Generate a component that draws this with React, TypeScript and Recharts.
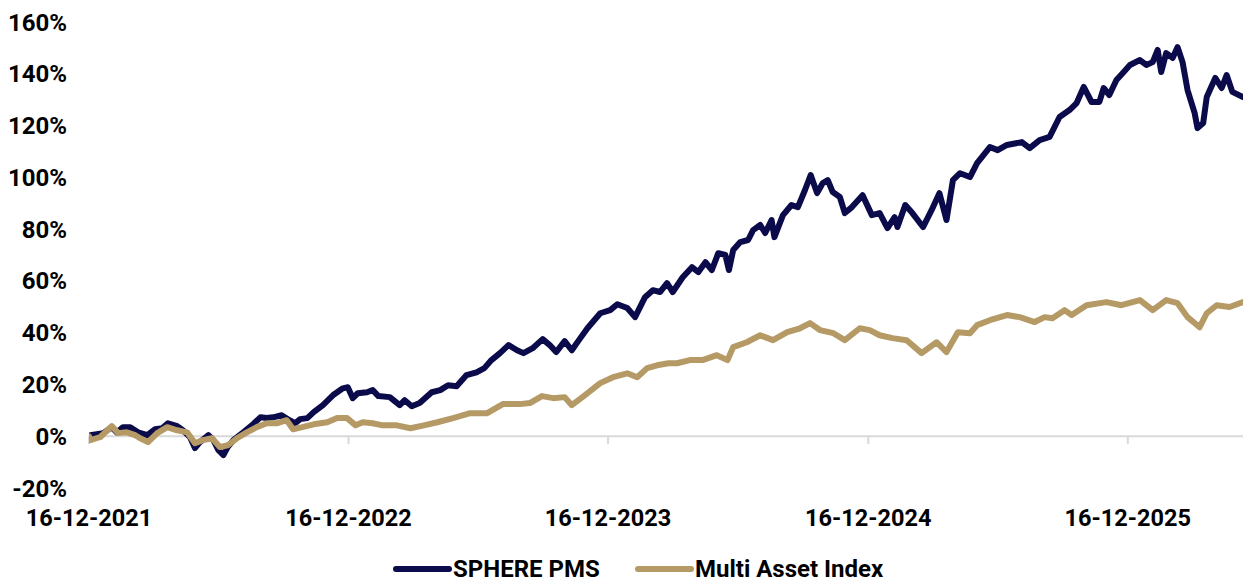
import React from "react";
import { LineChart, Line, XAxis, YAxis, ReferenceLine, Legend } from "recharts";

// ---------- data ----------
const seriesNames = ["SPHERE PMS", "Multi Asset Index"];
const seriesColors = ["#0b0b4b", "#b59a66"];

const xTickDates = ["2021-12-16", "2022-12-16", "2023-12-16", "2024-12-16", "2025-12-16"];
const yTicks = [-20, 0, 20, 40, 60, 80, 100, 120, 140, 160];

const sphereDates = [
  "2021-12-16","2021-12-18","2022-01-05","2022-01-17","2022-01-24","2022-02-02","2022-02-12","2022-02-23",
  "2022-03-08","2022-03-19","2022-03-29","2022-04-06","2022-04-19","2022-04-27","2022-05-07","2022-05-14",
  "2022-05-21","2022-06-02","2022-06-09","2022-06-16","2022-06-23","2022-06-29","2022-07-07","2022-07-21",
  "2022-08-02","2022-08-14","2022-08-23","2022-09-01","2022-09-13","2022-09-24","2022-10-02","2022-10-09",
  "2022-10-19","2022-10-28","2022-11-10","2022-11-24","2022-12-08","2022-12-15","2022-12-22","2022-12-29",
  "2023-01-11","2023-01-19","2023-01-27","2023-02-12","2023-02-26","2023-03-05","2023-03-15","2023-03-26",
  "2023-04-12","2023-04-24","2023-05-05","2023-05-17","2023-05-31","2023-06-14","2023-06-25","2023-07-05",
  "2023-07-17","2023-07-29","2023-08-10","2023-08-19","2023-09-01","2023-09-15","2023-09-25","2023-10-04",
  "2023-10-16","2023-10-26","2023-11-06","2023-11-17","2023-12-05","2023-12-19","2023-12-29","2024-01-12",
  "2024-01-23","2024-02-06","2024-02-17","2024-02-27","2024-03-08","2024-03-16","2024-03-30","2024-04-12",
  "2024-04-21","2024-05-01","2024-05-10","2024-05-19","2024-05-29","2024-06-03","2024-06-09","2024-06-19",
  "2024-06-30","2024-07-07","2024-07-17","2024-07-24","2024-08-02","2024-08-06","2024-08-18","2024-08-30",
  "2024-09-08","2024-09-18","2024-09-26","2024-10-05","2024-10-13","2024-10-20","2024-10-27","2024-11-06",
  "2024-11-13","2024-11-23","2024-12-08","2024-12-21","2025-01-01","2025-01-12","2025-01-22","2025-01-26",
  "2025-02-06","2025-02-16","2025-03-03","2025-03-15","2025-03-26","2025-04-05","2025-04-14","2025-04-24",
  "2025-05-08","2025-05-18","2025-06-05","2025-06-16","2025-06-29","2025-07-20","2025-07-31","2025-08-14",
  "2025-08-28","2025-09-11","2025-09-25","2025-10-05","2025-10-15","2025-10-26","2025-11-06","2025-11-12",
  "2025-11-20","2025-11-30","2025-12-09","2025-12-19","2026-01-02","2026-01-11","2026-01-20","2026-01-27",
  "2026-02-01","2026-02-08","2026-02-17","2026-02-24","2026-03-03","2026-03-10","2026-03-20","2026-03-24",
  "2026-04-01","2026-04-06","2026-04-18","2026-04-27","2026-05-04","2026-05-12","2026-05-27",
];
const sphereValues = [
  0, 0.4, 1.2, 3.5, 1.5, 3.5, 3.5, 1.5,
  0.4, 2.7, 3.1, 5.0, 3.9, 2.3, -0.3, -4.6,
  -2.3, 0.4, -1.5, -5.4, -7.3, -4.2, -1.5, 1.5,
  4.2, 7.3, 7.0, 7.3, 8.1, 6.2, 5.0, 6.6,
  7.0, 9.3, 12.0, 15.8, 18.5, 18.9, 14.7, 16.6,
  17.0, 17.8, 15.5, 15.1, 12.0, 13.9, 11.6, 12.8,
  17.0, 17.8, 19.7, 19.3, 23.6, 24.7, 26.3, 29.4,
  32.1, 35.2, 33.2, 32.1, 34.0, 37.5, 35.2, 32.5,
  36.7, 33.2, 37.5, 41.7, 47.5, 48.7, 51.0, 49.5,
  46.0, 53.7, 56.4, 55.7, 59.1, 55.7, 61.4, 65.3,
  63.4, 67.2, 64.2, 70.7, 70.0, 64.2, 71.9, 75.0,
  75.8, 79.6, 81.6, 78.5, 83.5, 76.9, 85.4, 89.3,
  88.5, 95.1, 100.9, 93.9, 97.8, 98.9, 94.3, 92.4,
  86.2, 88.5, 93.1, 85.4, 86.2, 80.4, 84.6, 80.8,
  89.3, 86.2, 80.8, 87.3, 93.9, 83.5, 98.9, 101.6,
  100.1, 105.5, 111.7, 110.5, 112.5, 113.6, 111.3, 114.4,
  115.6, 123.3, 126.0, 128.7, 134.9, 129.1, 129.1, 134.5,
  131.8, 137.6, 140.3, 143.4, 145.3, 143.4, 144.5, 149.2,
  140.7, 148.0, 146.1, 150.3, 144.5, 133.7, 124.8, 119.0,
  121.0, 131.0, 138.4, 134.5, 139.5, 133.0, 131.0,
];

const multiDates = [
  "2021-12-16","2021-12-18","2022-01-01","2022-01-17","2022-01-26","2022-02-07","2022-02-19","2022-02-26",
  "2022-03-09","2022-03-22","2022-04-05","2022-04-19","2022-05-03","2022-05-14","2022-05-25","2022-06-07",
  "2022-06-18","2022-06-29","2022-07-12","2022-07-26","2022-08-09","2022-08-23","2022-09-06","2022-09-20",
  "2022-09-29","2022-10-12","2022-10-28","2022-11-16","2022-11-30","2022-12-14","2022-12-26","2023-01-05",
  "2023-01-19","2023-02-02","2023-02-22","2023-03-13","2023-04-01","2023-04-20","2023-05-12","2023-06-05",
  "2023-06-29","2023-07-21","2023-08-14","2023-08-28","2023-09-14","2023-09-30","2023-10-16","2023-10-26",
  "2023-11-10","2023-12-05","2023-12-23","2024-01-12","2024-01-26","2024-02-09","2024-02-23","2024-03-10",
  "2024-03-22","2024-04-09","2024-04-27","2024-05-17","2024-06-01","2024-06-09","2024-06-28","2024-07-17",
  "2024-08-04","2024-08-24","2024-09-11","2024-09-25","2024-10-09","2024-10-28","2024-11-13","2024-12-04",
  "2024-12-18","2025-01-01","2025-01-19","2025-02-08","2025-03-01","2025-03-22","2025-04-05","2025-04-21",
  "2025-05-08","2025-05-18","2025-06-05","2025-06-29","2025-07-17","2025-08-07","2025-08-21","2025-09-01",
  "2025-09-18","2025-09-28","2025-10-19","2025-11-16","2025-12-07","2026-01-02","2026-01-20","2026-02-08",
  "2026-02-24","2026-03-10","2026-03-27","2026-04-06","2026-04-20","2026-05-08","2026-05-27",
];
const multiValues = [
  0, -1.5, -0.3, 3.9, 1.2, 1.5, 0.4, -0.8,
  -2.3, 1.2, 3.5, 2.3, 1.5, -2.7, -1.5, -0.8,
  -4.2, -3.5, -0.8, 1.5, 3.5, 5.0, 5.0, 6.2,
  2.7, 3.5, 4.6, 5.4, 7.0, 7.0, 4.2, 5.4,
  5.0, 4.2, 4.2, 3.1, 4.2, 5.4, 7.0, 8.9,
  8.9, 12.4, 12.4, 12.8, 15.5, 14.7, 15.1, 12.0,
  15.1, 20.5, 22.8, 24.3, 22.8, 26.3, 27.4, 28.2,
  28.2, 29.4, 29.4, 31.3, 29.4, 34.4, 36.3, 39.0,
  37.1, 40.2, 41.7, 43.7, 41.0, 39.8, 37.1, 41.7,
  41.0, 39.0, 37.9, 37.1, 32.1, 36.3, 32.5, 40.2,
  39.8, 42.9, 44.8, 46.8, 46.0, 44.1, 46.0, 45.6,
  48.7, 46.8, 50.6, 51.8, 50.6, 52.6, 48.7, 52.6,
  51.4, 46.0, 42.1, 47.5, 50.6, 49.9, 51.8,
];

// ---------- derived tables ----------
const toT = (d: string) => Date.parse(d);
const sphereData = sphereDates.map((d, i) => ({ t: toT(d), v: sphereValues[i] }));
const multiData = multiDates.map((d, i) => ({ t: toT(d), v: multiValues[i] }));
const xTicks = xTickDates.map(toT);
const xDomain = [toT(sphereDates[0]), toT(sphereDates[sphereDates.length - 1])];

const pad = (n: number) => (n < 10 ? "0" + n : "" + n);
const fmtDate = (t: number) => {
  const d = new Date(t);
  return `${pad(d.getUTCDate())}-${pad(d.getUTCMonth() + 1)}-${d.getUTCFullYear()}`;
};

const FONT = "Roboto, 'Liberation Sans', sans-serif";
const xTickStyle = { fontFamily: FONT, fontWeight: 700, fontSize: 23.5, fill: "#000" };
const yTickStyle = { fontFamily: FONT, fontWeight: 700, fontSize: 24, fill: "#000" };
const legendLefts = [391, 633];

const renderLegend = () => (
  <div style={{ position: "relative", width: 1243, height: 24 }}>
    {seriesNames.map((name, i) => (
      <div
        key={name}
        style={{
          position: "absolute",
          left: legendLefts[i],
          top: 0,
          height: 24,
          display: "flex",
          alignItems: "center",
          whiteSpace: "nowrap",
        }}
      >
        <svg width={62} height={24} style={{ display: "block" }}>
          <line x1={5} y1={12} x2={58} y2={12} stroke={seriesColors[i]} strokeWidth={6} strokeLinecap="round" />
        </svg>
        <span style={{ fontFamily: FONT, fontWeight: 700, fontSize: 24, lineHeight: "24px", color: "#000" }}>{name}</span>
      </div>
    ))}
  </div>
);

export default function App() {
  return (
    <div style={{ position: "absolute", left: 0, top: 0, width: 1243, height: 581, background: "#fff" }}>
      <LineChart width={1243} height={581} margin={{ top: 22, right: 0, bottom: 0, left: 0 }}>
        <XAxis
          dataKey="t"
          type="number"
          domain={xDomain}
          ticks={xTicks}
          tickFormatter={fmtDate}
          axisLine={false}
          tickLine={false}
          tickSize={0}
          tickMargin={21}
          height={69}
          interval={0}
          tick={xTickStyle}
          allowDataOverflow
        />
        <YAxis
          type="number"
          domain={[-20, 160]}
          ticks={yTicks}
          tickFormatter={(v: number) => `${v}%`}
          axisLine={false}
          tickLine={false}
          tickSize={0}
          tickMargin={22}
          width={89}
          interval={0}
          tick={yTickStyle}
        />
        <ReferenceLine y={0} stroke="#d9d9d9" strokeWidth={2} />
        {xTicks.map((t) => (
          <ReferenceLine
            key={t}
            segment={[{ x: t, y: 0 }, { x: t, y: -3 }]}
            stroke="#d9d9d9"
            strokeWidth={2}
          />
        ))}
        <Line
          data={sphereData}
          dataKey="v"
          name={seriesNames[0]}
          stroke={seriesColors[0]}
          strokeWidth={6}
          strokeLinejoin="round"
          strokeLinecap="round"
          dot={false}
          type="linear"
          isAnimationActive={false}
        />
        <Line
          data={multiData}
          dataKey="v"
          name={seriesNames[1]}
          stroke={seriesColors[1]}
          strokeWidth={6}
          strokeLinejoin="round"
          strokeLinecap="round"
          dot={false}
          type="linear"
          isAnimationActive={false}
        />
        <Legend verticalAlign="bottom" content={renderLegend} wrapperStyle={{ left: 0, bottom: 0, width: 1243, height: 24 }} />
      </LineChart>
    </div>
  );
}
